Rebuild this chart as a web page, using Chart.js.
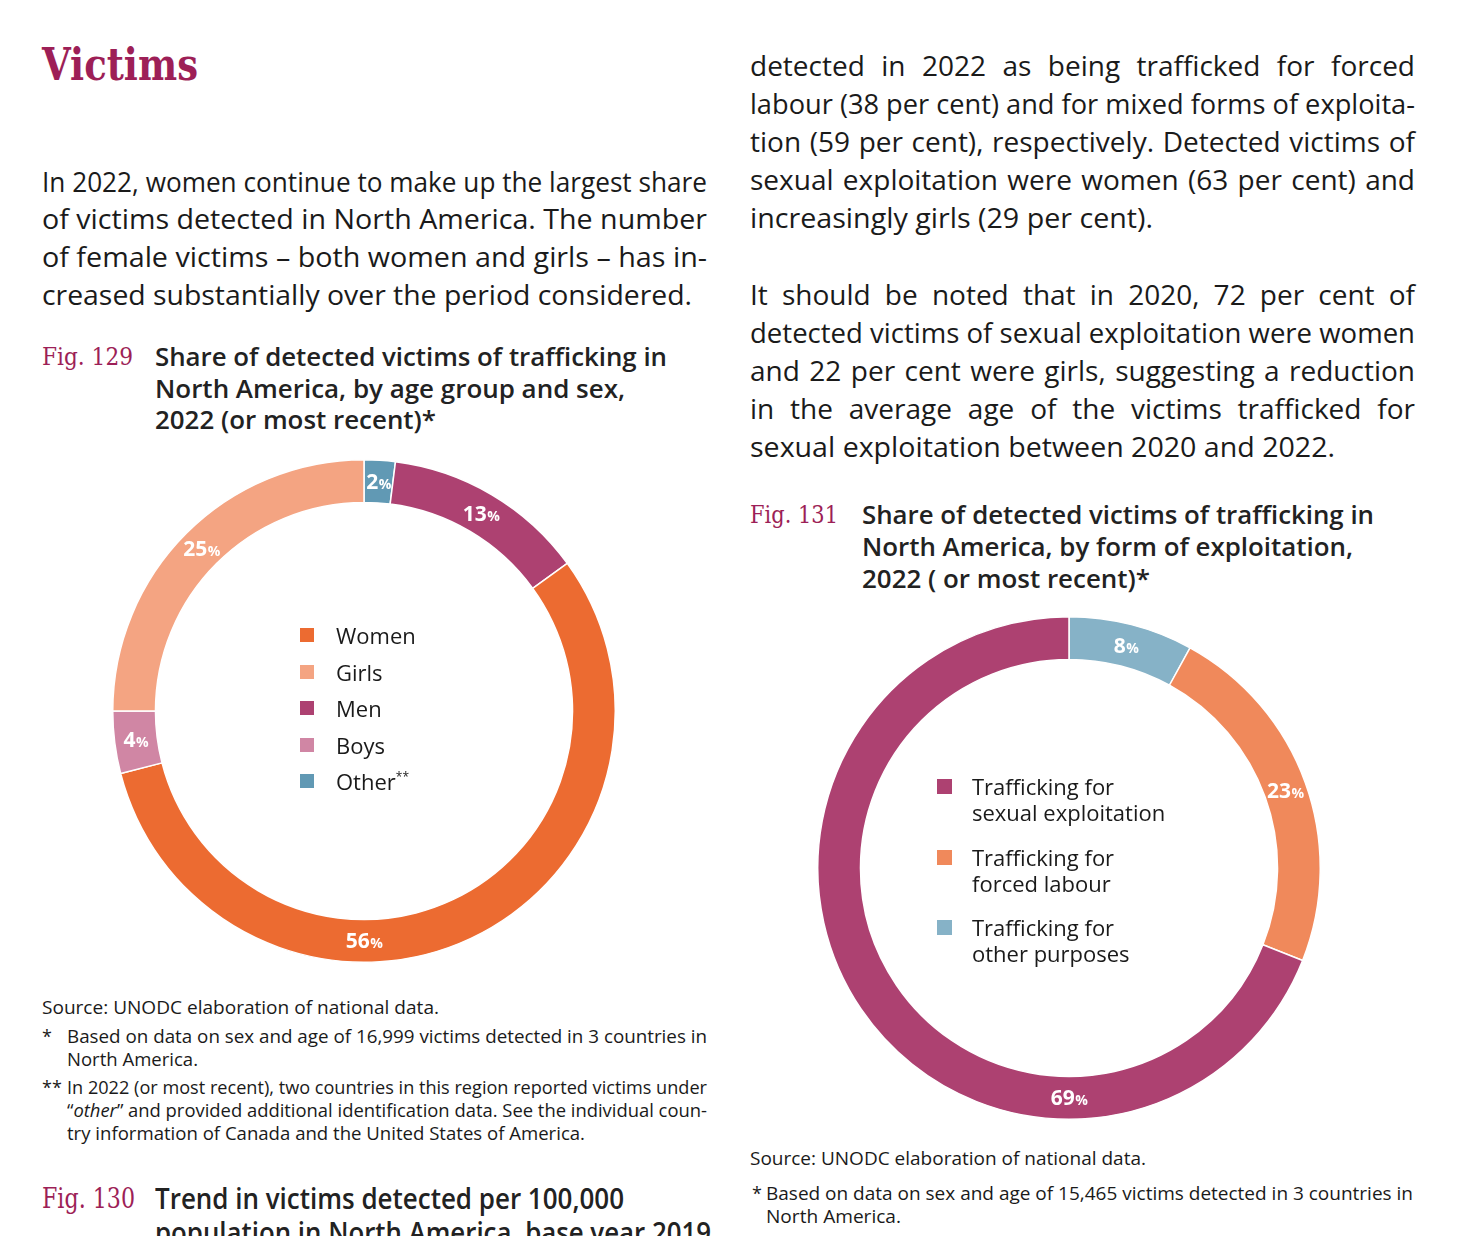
<!DOCTYPE html>
<html>
<head>
<meta charset="utf-8">
<script src="https://cdn.jsdelivr.net/npm/chart.js@4.4.1/dist/chart.umd.min.js"></script>
<style>
  html, body { margin: 0; padding: 0; background: #fff; }
  #page { position: relative; width: 1472px; height: 1236px; overflow: hidden; font-family: "Open Sans", sans-serif; color: #1a1a1a; }
  .ln { position: absolute; white-space: nowrap; line-height: 1; transform-origin: 0 0; }
  .title { font-family: "DejaVu Serif", serif; font-weight: bold; color: #9d1f57; }
  .figno { font-family: "DejaVu Serif", serif; color: #9d1f57; }
  .cap { font-weight: 600; color: #222; }
  .chartbox { position: absolute; width: 504px; height: 504px; }
  .legend { position: absolute; font-size: 22px; }
  .legend .item { position: relative; }
  .legend .sw { position: absolute; left: 0; width: 15px; height: 15px; }
  .legend sup { font-size: 12px; vertical-align: 9px; line-height: 0; }
  #leg1 { left: 188px; top: 158px; }
  #leg1 .item { height: 36.6px; line-height: 36.6px; }
  #leg1 .sw { top: 11px; width: 14px; height: 14px; }
  #leg1 .tx { position: absolute; left: 36px; top: 0; white-space: nowrap; }
  #leg2 { left: 120px; top: 157px; }
  #leg2 .item { height: 52px; line-height: 26px; margin-bottom: 18.5px; }
  #leg2 .sw { top: 6px; }
  #leg2 .tx { position: absolute; left: 35px; top: 0; white-space: nowrap; }
</style>
</head>
<body>
<div id="page">
  <div class="chartbox" style="left:112px; top:459px;">
    <canvas id="ageChart"></canvas>
    <div class="legend" id="leg1"></div>
  </div>
  <div class="chartbox" style="left:817px; top:616px;">
    <canvas id="formChart"></canvas>
    <div class="legend" id="leg2"></div>
  </div>
</div>
<script>
// Fig. 129 - segments in ring order, clockwise from 12 o'clock
const ageGroups = ["Other**", "Men", "Women", "Boys", "Girls"];
const ageShares = [2, 13, 56, 4, 25];
const ageColors = ["#6199b4", "#ad4171", "#ec6b31", "#d086a4", "#f4a482"];
const ageLegendOrder = [2, 4, 1, 3, 0];

// Fig. 131 - segments in ring order, clockwise from 12 o'clock
const formGroups = ["Trafficking for\nother purposes", "Trafficking for\nforced labour", "Trafficking for\nsexual exploitation"];
const formShares = [8, 23, 69];
const formColors = ["#86b2c7", "#f0895b", "#ad4171"];
const formLegendOrder = [2, 1, 0];

// page text: [html, x, baseline, font size, width, class, justify]
const textLines = [
  ["Victims", 42, 82, 44, 156, "title"],
  ["In 2022, women continue to make up the largest share", 42, 192, 27, 665],
  ["of victims detected in North America. The number", 42, 229, 27, 665],
  ["of female victims – both women and girls – has in-", 42, 267, 27, 665],
  ["creased substantially over the period considered.", 42, 305, 27, 650],
  ["Fig. 129", 42, 366, 24, 91, "figno"],
  ["Share of detected victims of trafficking in", 155, 366, 25, 512, "cap"],
  ["North America, by age group and sex,", 155, 398, 25, 470, "cap"],
  ["2022 (or most recent)*", 155, 429, 25, 281, "cap"],
  ["Source: UNODC elaboration of national data.", 42, 1014, 18, 397],
  ["*", 42, 1043, 18, 0],
  ["Based on data on sex and age of 16,999 victims detected in 3 countries in", 67, 1043, 18, 640],
  ["North America.", 67, 1066, 18, 131],
  ["**", 42, 1094, 18, 0],
  ["In 2022 (or most recent), two countries in this region reported victims under", 67, 1094, 18, 640],
  ["“<i>other</i>” and provided additional identification data. See the individual coun-", 67, 1117, 18, 640],
  ["try information of Canada and the United States of America.", 67, 1140, 18, 518],
  ["Fig. 130", 42, 1209, 27, 93, "figno"],
  ["Trend in victims detected per 100,000", 155, 1209, 28, 469, "cap"],
  ["population in North America, base year 2019", 155, 1243, 28, 556, "cap"],

  ["detected in 2022 as being trafficked for forced", 750, 76, 28, 665, "", true],
  ["labour (38 per cent) and for mixed forms of exploita-", 750, 114, 28, 665, "", true],
  ["tion (59 per cent), respectively. Detected victims of", 750, 152, 28, 665, "", true],
  ["sexual exploitation were women (63 per cent) and", 750, 190, 28, 665, "", true],
  ["increasingly girls (29 per cent).", 750, 228, 28, 403],
  ["It should be noted that in 2020, 72 per cent of", 750, 305, 28, 665, "", true],
  ["detected victims of sexual exploitation were women", 750, 343, 28, 665, "", true],
  ["and 22 per cent were girls, suggesting a reduction", 750, 381, 28, 665, "", true],
  ["in the average age of the victims trafficked for", 750, 419, 28, 665, "", true],
  ["sexual exploitation between 2020 and 2022.", 750, 457, 28, 585],
  ["Fig. 131", 750, 524, 24, 88, "figno"],
  ["Share of detected victims of trafficking in", 862, 524, 25, 512, "cap"],
  ["North America, by form of exploitation,", 862, 556, 25, 491, "cap"],
  ["2022 ( or most recent)*", 862, 588, 25, 288, "cap"],
  ["Source: UNODC elaboration of national data.", 750, 1165, 18, 396],
  ["*", 752, 1200, 18, 0],
  ["Based on data on sex and age of 15,465 victims detected in 3 countries in", 766, 1200, 18, 647],
  ["North America.", 766, 1223, 18, 135]
];

const page = document.getElementById("page");
const placed = [];
textLines.forEach(([html, x, base, size, w, cls, just]) => {
  const el = document.createElement("div");
  el.className = "ln " + (cls || "");
  el.innerHTML = html;
  el.style.left = x + "px";
  el.style.top = (base - 0.888 * size) + "px";
  el.style.fontSize = size + "px";
  page.appendChild(el);
  placed.push({ el, w, just });
});

function fitLines() {
  placed.forEach(({ el, w, just }) => {
    if (!w) return;
    const nat = el.getBoundingClientRect().width;
    const spaces = (el.textContent.match(/ /g) || []).length;
    if (just && nat < w && spaces) {
      el.style.wordSpacing = ((w - nat) / spaces) + "px";
    } else {
      el.style.transform = "scaleX(" + (w / nat) + ")";
    }
  });
}

function buildLegend(id, order, labels, colors) {
  const box = document.getElementById(id);
  order.forEach(i => {
    const row = document.createElement("div");
    row.className = "item";
    const txt = labels[i].replace("**", "<sup>**</sup>").replace("\n", "<br>");
    row.innerHTML = `<span class="sw" style="background:${colors[i]}"></span><span class="tx">${txt}</span>`;
    box.appendChild(row);
  });
}

// white share labels; the big segment gets its label at the bottom of the ring
const pctLabels = {
  id: "pctLabels",
  afterDatasetsDraw(chart) {
    const ctx = chart.ctx;
    const values = chart.data.datasets[0].data;
    chart.getDatasetMeta(0).data.forEach((arc, i) => {
      const p = arc.getProps(["x", "y", "startAngle", "endAngle", "innerRadius", "outerRadius"], true);
      let a = (p.startAngle + p.endAngle) / 2;
      if (p.startAngle < Math.PI / 2 && p.endAngle > Math.PI / 2 && p.endAngle - p.startAngle > Math.PI) a = Math.PI / 2;
      const r = (p.innerRadius + p.outerRadius) / 2;
      const cx = p.x + r * Math.cos(a), cy = p.y + r * Math.sin(a);
      const num = String(values[i]);
      ctx.save();
      ctx.fillStyle = "#fff";
      ctx.textBaseline = "alphabetic";
      ctx.textAlign = "left";
      ctx.font = 'bold 21px "Open Sans"';
      const w1 = ctx.measureText(num).width;
      ctx.font = 'bold 14px "Open Sans"';
      const w2 = ctx.measureText("%").width;
      const sx = cx - (w1 + w2) / 2, by = cy + 7.5;
      ctx.font = 'bold 21px "Open Sans"';
      ctx.fillText(num, sx, by);
      ctx.font = 'bold 14px "Open Sans"';
      ctx.fillText("%", sx + w1 + 0.5, by);
      ctx.restore();
    });
  }
};

function ringChart(id, labels, values, colors) {
  return new Chart(document.getElementById(id), {
    type: "doughnut",
    data: {
      labels: labels,
      datasets: [{
        data: values,
        backgroundColor: colors,
        borderColor: "#fff",
        borderWidth: 1.5,
        hoverOffset: 0
      }]
    },
    options: {
      responsive: true,
      maintainAspectRatio: false,
      animation: false,
      cutout: "83%",
      layout: { padding: 0 },
      plugins: { legend: { display: false }, tooltip: { enabled: false } }
    },
    plugins: [pctLabels]
  });
}

buildLegend("leg1", ageLegendOrder, ageGroups, ageColors);
buildLegend("leg2", formLegendOrder, formGroups, formColors);

document.fonts.ready.then(() => {
  fitLines();
  ringChart("ageChart", ageGroups, ageShares, ageColors);
  ringChart("formChart", formGroups, formShares, formColors);
});
</script>
</body>
</html>
